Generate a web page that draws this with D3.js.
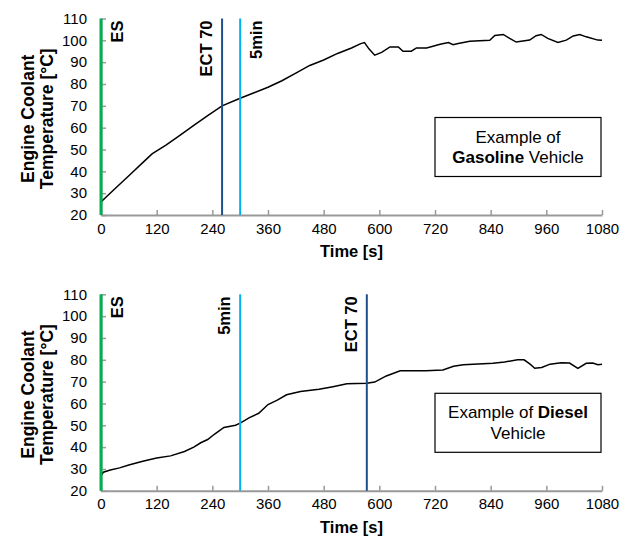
<!DOCTYPE html>
<html>
<head>
<meta charset="utf-8">
<script src="https://cdn.jsdelivr.net/npm/d3@7"></script>
<style>
  body { margin: 0; background: #fff; }
  text { font-family: Arial, "Liberation Sans", sans-serif; }
</style>
</head>
<body>
<div id="chart"></div>
<script>
var svgWidth = 629;
var svgHeight = 547;

// tick values shared by both panels
var xTicks = [0, 120, 240, 360, 480, 600, 720, 840, 960, 1080];
var yTicks = [20, 30, 40, 50, 60, 70, 80, 90, 100, 110];

// gasoline vehicle, coolant temperature [°C] vs time [s]
var gasTime = [0, 10, 30, 60, 90, 110, 140, 170, 200, 230, 261, 300, 330, 360, 390, 420, 450, 480, 510, 540, 560, 568,
  578, 590, 605, 623, 641, 651, 669, 680, 702, 731, 749, 759, 770, 795, 838, 849, 867, 881, 895, 924, 938, 949, 963, 985,
  1003, 1018, 1032, 1046, 1071, 1080];
var gasTemp = [26, 28, 32, 38, 44, 48, 52, 56.5, 61, 65.5, 70, 73.5, 76, 78.5, 81.5, 85, 88.5, 91, 94, 96.5, 98.5, 99,
  96, 93.2, 94.5, 97, 97, 95, 95, 96.5, 96.5, 98.2, 99, 98, 98.5, 99.6, 100, 102.2, 102.7, 100.9, 99.2, 100.1, 102.1, 102.7, 100.9, 99,
  100.1, 102, 102.7, 101.6, 100.1, 100];

// diesel vehicle
var dieselTime = [0, 5, 20, 40, 60, 90, 120, 150, 180, 200, 215, 230, 245, 265, 290, 300, 320, 340, 360, 380, 400, 430,
  470, 500, 530, 573, 590, 615, 645, 700, 737, 760, 781, 845, 870, 898, 912, 925, 935, 950, 968, 992, 1010, 1028, 1046,
  1060, 1071, 1080];
var dieselTemp = [27, 28.5, 29.5, 30.5, 31.8, 33.5, 35, 36, 38, 40, 42, 43.5, 46, 49, 50, 51, 53.5, 55.5, 59.5, 61.5, 64, 65.5,
  66.5, 67.7, 69, 69.3, 69.8, 72.6, 75, 75, 75.3, 77, 77.7, 78.4, 79, 80, 80, 78, 76.1, 76.5, 78, 78.7, 78.5, 76.1, 78.4,
  78.5, 77.7, 78];

// event markers (time in s)
var gasMarkers = [
  { label: "ES", t: 0, color: "#00b050", side: 1 },
  { label: "ECT 70", t: 261, color: "#1f4e8c", side: -1 },
  { label: "5min", t: 300, color: "#00b0f0", side: 1 }
];
var dieselMarkers = [
  { label: "ES", t: 0, color: "#00b050", side: 1 },
  { label: "5min", t: 300, color: "#00b0f0", side: -1 },
  { label: "ECT 70", t: 573, color: "#1f4e8c", side: -1 }
];

var svg = d3.select("#chart")
  .append("svg")
  .attr("width", svgWidth)
  .attr("height", svgHeight);

var x = d3.scaleLinear().domain([0, 1080]).range([101, 602]);

function drawPanel(top, times, temps, markers, boxLines) {
  var y = d3.scaleLinear().domain([20, 110]).range([top + 196.5, top]);
  var g = svg.append("g");

  // x axis with ticks pointing up
  var xAxis = g.append("g")
    .attr("transform", `translate(0, ${y(20)})`)
    .call(d3.axisBottom(x).tickValues(xTicks).tickFormat(d3.format("d"))
      .tickSizeInner(-5).tickSizeOuter(0).tickPadding(8));
  xAxis.select(".domain").attr("stroke", "#999").attr("stroke-width", 2);
  xAxis.selectAll(".tick line").attr("stroke", "#999").attr("stroke-width", 1.5);
  xAxis.selectAll("text").attr("font-size", "15px").attr("fill", "#000");

  // y axis with ticks pointing right
  var yAxis = g.append("g")
    .attr("transform", `translate(${x(0)}, 0)`)
    .call(d3.axisLeft(y).tickValues(yTicks).tickSizeInner(-5).tickSizeOuter(0).tickPadding(14));
  yAxis.select(".domain").attr("stroke", "#999").attr("stroke-width", 2);
  yAxis.selectAll(".tick line").attr("stroke", "#999").attr("stroke-width", 1.5);
  yAxis.selectAll("text").attr("font-size", "15px").attr("fill", "#000");

  // temperature trace
  var line = d3.line()
    .x(function(d, i) { return x(times[i]); })
    .y(function(d) { return y(d); });
  g.append("path")
    .datum(temps)
    .attr("d", line)
    .attr("fill", "none")
    .attr("stroke", "#000")
    .attr("stroke-width", 1.5);

  // marker lines + rotated labels
  markers.forEach(function(m) {
    g.append("line")
      .attr("x1", x(m.t)).attr("x2", x(m.t))
      .attr("y1", y(110)).attr("y2", y(20))
      .attr("stroke", m.color)
      .attr("stroke-width", m.t === 0 ? 3 : 2);
    var lx = x(m.t) + m.side * 16 + 6;
    g.append("text")
      .attr("transform", `translate(${lx}, ${y(110) + 2}) rotate(-90)`)
      .attr("text-anchor", "end")
      .attr("font-size", "16.5px")
      .attr("font-weight", "bold")
      .text(m.label);
  });

  // axis titles
  g.append("text")
    .attr("x", (x(0) + x(1080)) / 2)
    .attr("y", y(20) + 42)
    .attr("text-anchor", "middle")
    .attr("font-size", "16.5px")
    .attr("font-weight", "bold")
    .text("Time [s]");

  var yt = g.append("text")
    .attr("transform", `translate(0, ${(y(20) + y(110)) / 2 + 2}) rotate(-90)`)
    .attr("text-anchor", "middle")
    .attr("font-size", "17.5px")
    .attr("font-weight", "bold");
  yt.append("tspan").attr("x", 0).attr("y", 34).text("Engine Coolant");
  yt.append("tspan").attr("x", 0).attr("y", 53).text("Temperature [°C]");

  // vehicle box
  var bx = 435, by = y(110) + 99, bw = 166, bh = 59;
  g.append("rect")
    .attr("x", bx).attr("y", by)
    .attr("width", bw).attr("height", bh)
    .attr("fill", "#fff")
    .attr("stroke", "#000")
    .attr("stroke-width", 1.2);
  boxLines.forEach(function(parts, i) {
    var t = g.append("text")
      .attr("x", bx + bw / 2)
      .attr("y", by + 25 + i * 20.5)
      .attr("text-anchor", "middle")
      .attr("font-size", "17px");
    parts.forEach(function(p) {
      t.append("tspan").attr("font-weight", p[1] ? "bold" : "normal").text(p[0]);
    });
  });
}

drawPanel(18.5, gasTime, gasTemp, gasMarkers,
  [[["Example of", false]], [["Gasoline", true], [" Vehicle", false]]]);
drawPanel(294.3, dieselTime, dieselTemp, dieselMarkers,
  [[["Example of ", false], ["Diesel", true]], [["Vehicle", false]]]);
</script>
</body>
</html>
